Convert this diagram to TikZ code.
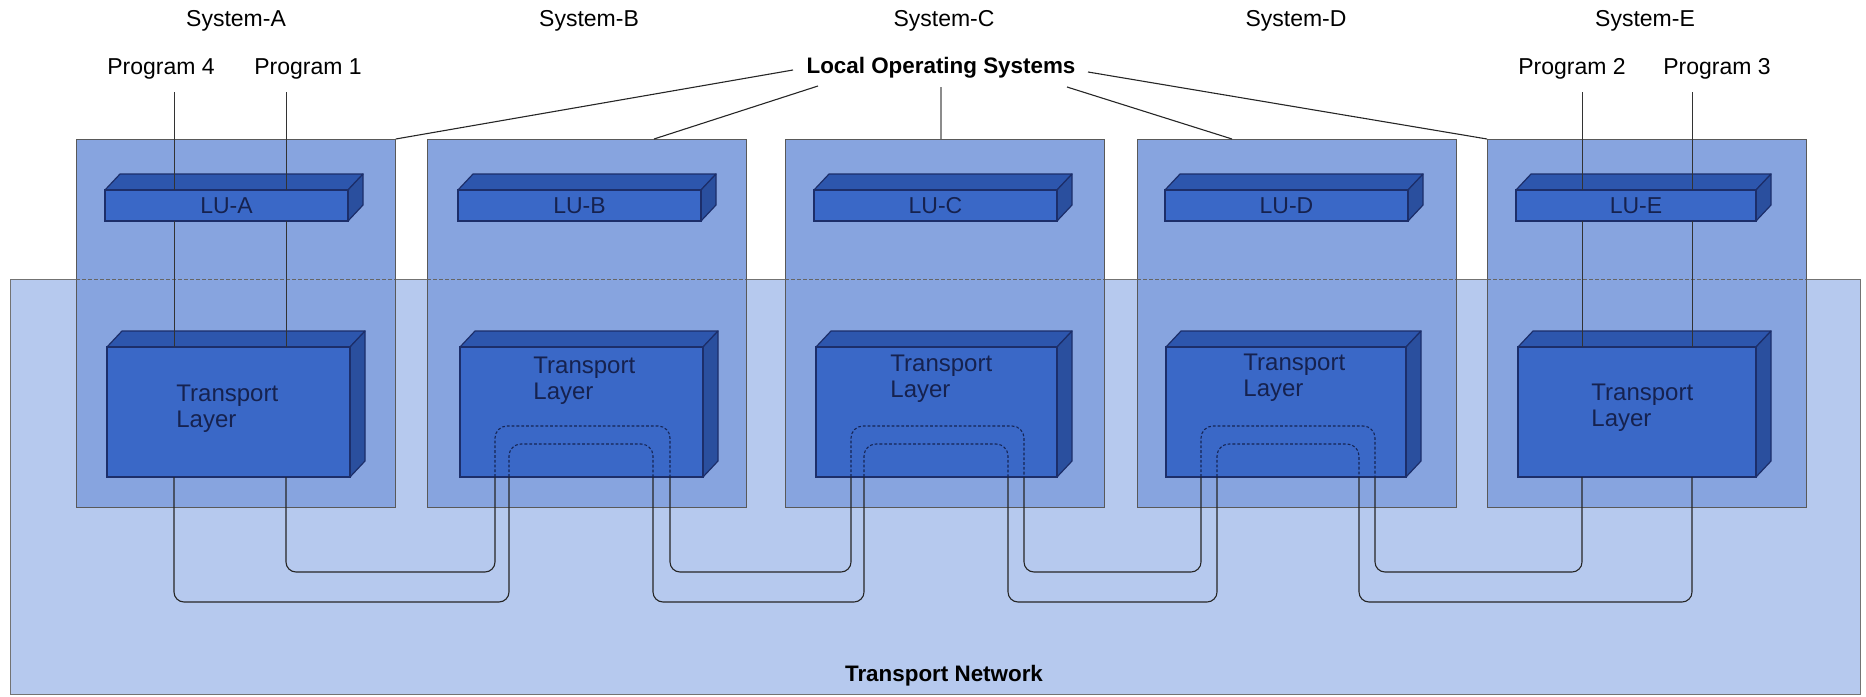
\documentclass[tikz,border=0pt]{standalone}
\usepackage{fontspec}
\setmainfont{Liberation Sans}
\definecolor{netblue}{HTML}{B6C9EE}
\definecolor{sysblue}{HTML}{87A4DF}
\definecolor{frontblue}{HTML}{3A68C7}
\definecolor{topblue}{HTML}{2D56AD}
\definecolor{sideblue}{HTML}{2A4F9E}
\definecolor{edgeblue}{HTML}{1C2E6A}
\definecolor{inktext}{HTML}{16224F}

% 3-D block: name, left, top, right, bottom (front face)
\newcommand\prismblock[5]{%
  \filldraw[fill=topblue, draw=edgeblue, line width=0.6pt, line join=round]
     (#2,#3) -- ({#2+15},{#3-16}) -- ({#4+15},{#3-16}) -- (#4,#3) -- cycle;
  \filldraw[fill=sideblue, draw=edgeblue, line width=0.6pt, line join=round]
     (#4,#3) -- ({#4+15},{#3-16}) -- ({#4+15},{#5-16}) -- (#4,#5) -- cycle;
  \filldraw[fill=frontblue, draw=edgeblue, line width=0.6pt] (#2,#3) rectangle (#4,#5);
  \coordinate (#1) at ({(#2+#4)/2},{(#3+#5)/2});
}

\begin{document}
\begin{tikzpicture}[x=0.5pt,y=-0.5pt,
  lbl/.style={font=\fontsize{11.5}{13}\selectfont, inner sep=0pt},
  blbl/.style={font=\fontsize{11.2}{13}\selectfont\bfseries, inner sep=0pt},
  inlbl/.style={font=\fontsize{12}{13}\selectfont, text=inktext, inner sep=0pt, align=left, anchor=west},
  lulbl/.style={font=\fontsize{11.5}{13}\selectfont, text=inktext, inner sep=0pt},
  sysbox/.style={fill=sysblue, draw=black!65, line width=0.4pt, minimum width=159.5pt, minimum height=184pt, anchor=north west, inner sep=0pt},
  wire/.style={line width=0.55pt, black!85, rounded corners=5pt},
  inwire/.style={line width=0.55pt, edgeblue!80!black, dash pattern=on 1.4pt off 1pt, rounded corners=6pt},
  pline/.style={line width=0.5pt, black!80},
  lead/.style={line width=0.55pt, black!85},
]
\useasboundingbox (0,0) rectangle (1866,696);

% transport network
\filldraw[fill=netblue, draw=black!55, line width=0.4pt] (10,279) rectangle (1860,694);

% local systems
\node[sysbox] (sysA) at (76,139) {};
\node[sysbox] (sysB) at (427,139) {};
\node[sysbox] (sysC) at (785,139) {};
\node[sysbox] (sysD) at (1137,139) {};
\node[sysbox] (sysE) at (1487,139) {};
\foreach \l in {76,427,785,1137,1487}
  \draw[black!60, line width=0.35pt, dash pattern=on 2pt off 1pt] (\l,279) -- ({\l+319},279);

% system names
\node[lbl] (nameA) at (236,21) {System-A};
\node[lbl] (nameB) at (589,21) {System-B};
\node[lbl] (nameC) at (944,21) {System-C};
\node[lbl] (nameD) at (1296,21) {System-D};
\node[lbl] (nameE) at (1645,21) {System-E};

% logical units
\prismblock{luA}{105}{190}{348}{221}
\prismblock{luB}{458}{190}{701}{221}
\prismblock{luC}{814}{190}{1057}{221}
\prismblock{luD}{1165}{190}{1408}{221}
\prismblock{luE}{1516}{190}{1756}{221}
\node[lulbl] at (luA) {LU-A};
\node[lulbl] at (luB) {LU-B};
\node[lulbl] at (luC) {LU-C};
\node[lulbl] at (luD) {LU-D};
\node[lulbl] at (luE) {LU-E};

% transport layers
\prismblock{tlA}{107}{347}{350}{477}
\prismblock{tlB}{460}{347}{703}{477}
\prismblock{tlC}{816}{347}{1057}{477}
\prismblock{tlD}{1166}{347}{1406}{477}
\prismblock{tlE}{1518}{347}{1756}{477}
\node[inlbl] (txA) at (176,409) {Transport\\Layer};
\node[inlbl] (txB) at (533,381) {Transport\\Layer};
\node[inlbl] (txC) at (890,379) {Transport\\Layer};
\node[inlbl] (txD) at (1243,378) {Transport\\Layer};
\node[inlbl] (txE) at (1591,408) {Transport\\Layer};

% programs
\node[lbl] (prog4) at (161,69) {Program 4};
\node[lbl] (prog1) at (308,69) {Program 1};
\node[lbl] (prog2) at (1572,69) {Program 2};
\node[lbl] (prog3) at (1717,69) {Program 3};
\foreach \x in {174,286,1582,1692}{
  \draw[pline] (\x,92) -- (\x,190);
  \draw[pline] (\x,221) -- (\x,347);
}

% local operating systems callout
\node[blbl] (los) at (941,68) {Local Operating Systems};
\coordinate (losA) at (793,70);
\coordinate (losB) at (818,86);
\coordinate (losC) at (941,87);
\coordinate (losD) at (1067,87);
\coordinate (losE) at (1088,72);
\coordinate (topB) at (654,139);
\coordinate (topC) at (941,139);
\coordinate (topD) at (1232,139);
\draw[lead] (losA) -- (sysA.north east);
\draw[lead] (losB) -- (topB);
\draw[lead, black!45] (losC) -- (topC);
\draw[lead] (losD) -- (topD);
\draw[lead] (losE) -- (sysE.north west);

% transport network label
\node[blbl] (tnet) at (944,676) {Transport Network};

% ports on the underside of each transport layer
\foreach \n/\x in {a1/286, a4/174, bo1/495, bo2/670, bi1/509, bi2/653,
                   co1/851, co2/1024, ci1/864, ci2/1008,
                   do1/1201, do2/1375, di1/1217, di2/1359, e2/1582, e3/1692}
  \coordinate (\n) at (\x,477);

% session paths across the network (solid)
\draw[wire] (a1) -- ++(0,95) -| (bo1);
\draw[wire] (bo2) -- ++(0,95) -| (co1);
\draw[wire] (co2) -- ++(0,95) -| (do1);
\draw[wire] (do2) -- ++(0,95) -| (e2);
\draw[wire] (a4) -- ++(0,125) -| (bi1);
\draw[wire] (bi2) -- ++(0,125) -| (ci1);
\draw[wire] (ci2) -- ++(0,125) -| (di1);
\draw[wire] (di2) -- ++(0,125) -| (e3);

% and through the transport layers (dotted)
\draw[inwire] (bo1) -- ++(0,-51) -| (bo2);
\draw[inwire] (bi1) -- ++(0,-33) -| (bi2);
\draw[inwire] (co1) -- ++(0,-51) -| (co2);
\draw[inwire] (ci1) -- ++(0,-33) -| (ci2);
\draw[inwire] (do1) -- ++(0,-51) -| (do2);
\draw[inwire] (di1) -- ++(0,-33) -| (di2);
\end{tikzpicture}
\end{document}
